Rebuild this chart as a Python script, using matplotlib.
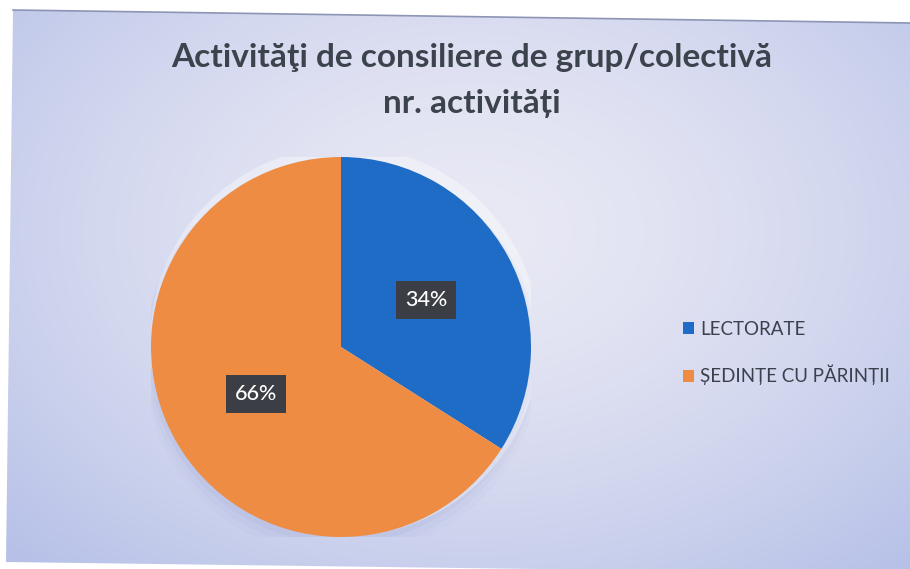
import numpy as np
import matplotlib
matplotlib.use("Agg")
import matplotlib.pyplot as plt
from matplotlib.patches import Polygon, Ellipse

categories = ["LECTORATE", "ȘEDINȚE CU PĂRINȚII"]
values = [34, 66]
colors = ["#1f6cc6", "#ee8c44"]
title_lines = ["Activităţi de consiliere de grup/colectivă", "nr. activități"]

W, H = 910, 569
fig = plt.figure(figsize=(W / 100, H / 100), dpi=100)
fig.patch.set_facecolor("white")

# background panel (scanned slide)
bg = fig.add_axes([0, 0, 1, 1])
bg.set_xlim(0, W)
bg.set_ylim(H, 0)
bg.axis("off")
yy, xx = np.mgrid[0:H, 0:W]
d = np.sqrt(((xx - 470) / 640.0) ** 2 + ((yy - 230) / 450.0) ** 2)
d = np.clip(d, 0, 1)
c_in = np.array([0.915, 0.915, 0.96])
c_out = np.array([0.72, 0.76, 0.91])
img = c_in[None, None, :] * (1 - d[..., None] ** 1.5) + c_out[None, None, :] * (d[..., None] ** 1.5)
panel = Polygon([(13, 10), (W + 5, 23), (W + 5, H + 5), (6, 562)], closed=True,
                facecolor="none", edgecolor="none", transform=bg.transData)
bg.add_patch(panel)
im = bg.imshow(img, extent=(0, W, H, 0), aspect="auto", zorder=0)
im.set_clip_path(panel)
bg.plot([13, W], [10, 23], color="#8d95b5", lw=1.2, zorder=1)

# pie
cx, cy, r = 341, 347, 190
ax = fig.add_axes([(cx - r) / W, (H - cy - r) / H, 2 * r / W, 2 * r / H])
ax.set_xlim(-1, 1)
ax.set_ylim(-1, 1)
ax.axis("off")
# soft halo/shadow
for k, (dx, dy, a) in enumerate([(0.0, -0.02, 0.08), (0.0, -0.04, 0.05), (0.0, -0.06, 0.035)]):
    ax.add_patch(Ellipse((dx, dy), 2.03 + 0.03 * k, 2.03 + 0.03 * k, facecolor="#7f8dc6",
                         alpha=a, edgecolor="none", zorder=0))
ax.add_patch(Ellipse((0.02, 0.03), 2.05, 2.05, facecolor="white", alpha=0.35, edgecolor="none", zorder=0))

wedges, texts, autotexts = ax.pie(
    values, colors=colors, startangle=90, counterclock=False, radius=1.0,
    autopct="%1.0f%%", pctdistance=0.51,
    wedgeprops=dict(linewidth=0, zorder=2),
    textprops=dict(color="white", fontsize=15.5, family="Lato", fontweight="medium"),
)
for t in autotexts:
    t.set_bbox(dict(boxstyle="square,pad=0.42", facecolor="#3b3f45", edgecolor="none"))
    t.set_zorder(5)
ax.set_xlim(-1, 1)
ax.set_ylim(-1, 1)

# title
fig.text(472 / W, 1 - 58 / H, title_lines[0], ha="center", va="center",
         fontsize=24, fontweight="bold", family="Lato", color="#3b434c")
fig.text(472 / W, 1 - 104 / H, title_lines[1], ha="center", va="center",
         fontsize=24, fontweight="bold", family="Lato", color="#3b434c")

# legend
leg = fig.legend(wedges, categories, loc="center left",
                 bbox_to_anchor=(666 / W, 1 - 353 / H), frameon=False,
                 handlelength=0.6, handleheight=0.6, handletextpad=0.3,
                 labelspacing=1.45, prop=dict(family="Lato", size=13.5))
for t in leg.get_texts():
    t.set_color("#3a414c")

fig.savefig("out.png", dpi=100)
